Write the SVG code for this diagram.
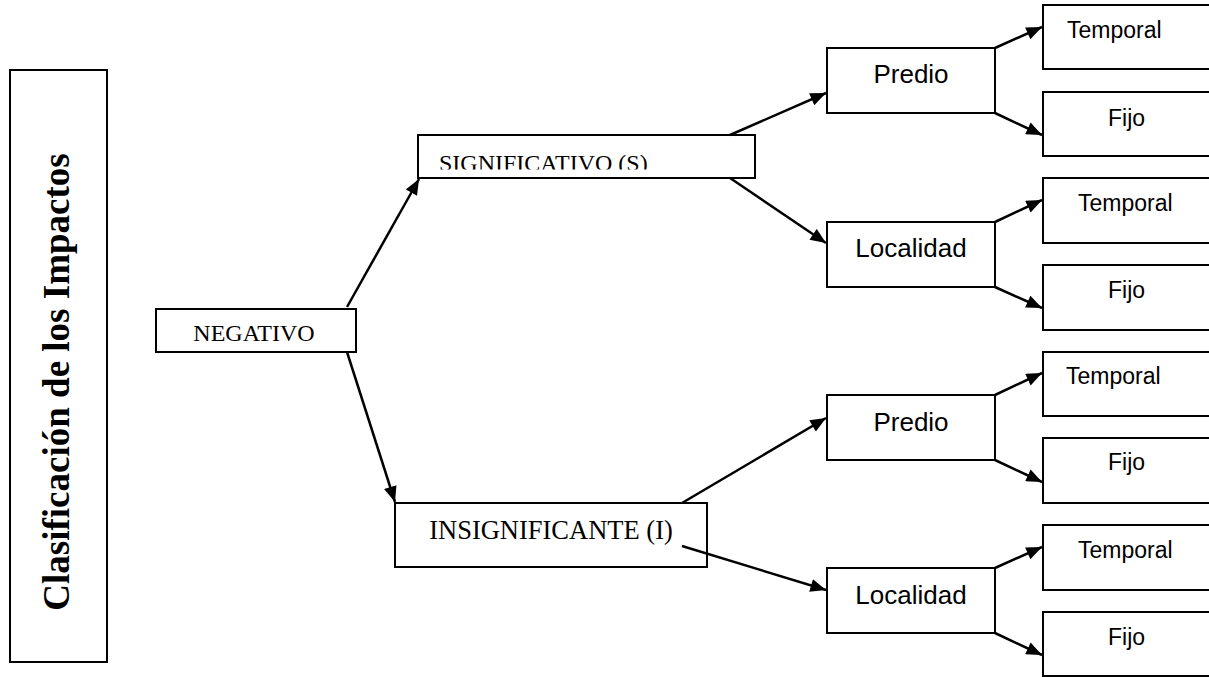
<svg xmlns="http://www.w3.org/2000/svg" width="1209" height="677" viewBox="0 0 1209 677">
<defs>
<style>
.box{fill:#fff;stroke:#000;stroke-width:2}
.serif{font-family:"Liberation Serif","Times New Roman",serif;fill:#000}
.sans{font-family:"Liberation Sans",Arial,sans-serif;fill:#000}
.con{stroke:#000;stroke-width:2.5;fill:none;marker-end:url(#ah)}
</style>
<marker id="ah" viewBox="0 0 12 10" refX="12" refY="5" markerWidth="6.4" markerHeight="5.2" markerUnits="strokeWidth" orient="auto">
<path d="M0,0 L12,5 L0,10 z" fill="#000"/>
</marker>
<clipPath id="clipS"><rect x="418" y="135" width="337" height="34.5"/></clipPath>
</defs>
<rect width="1209" height="677" fill="#fff"/>
<g id="title">
<rect class="box" x="10" y="70" width="97" height="592"/>
<text class="serif" transform="translate(69,382) rotate(-90)" text-anchor="middle" font-size="37" font-weight="bold">Clasificación de los Impactos</text>
</g>
<g id="negativo">
<rect class="box" x="156" y="309" width="200" height="43"/>
<text class="serif" x="254" y="341" text-anchor="middle" font-size="24">NEGATIVO</text>
</g>
<g id="significativo">
<rect class="box" x="418" y="135" width="337" height="43"/>
<text class="serif" x="439" y="170.5" font-size="24" clip-path="url(#clipS)">SIGNIFICATIVO (S)</text>
</g>
<g id="insignificante">
<rect class="box" x="395" y="503" width="312" height="64"/>
<text class="serif" x="551" y="539" text-anchor="middle" font-size="26.5">INSIGNIFICANTE (I)</text>
</g>
<g id="predio1">
<rect class="box" x="827" y="48" width="168" height="65"/>
<text class="sans" x="911" y="83" text-anchor="middle" font-size="26">Predio</text>
</g>
<g id="localidad1">
<rect class="box" x="827" y="222" width="168" height="65"/>
<text class="sans" x="911" y="257" text-anchor="middle" font-size="26">Localidad</text>
</g>
<g id="predio2">
<rect class="box" x="827" y="395" width="168" height="65"/>
<text class="sans" x="911" y="431" text-anchor="middle" font-size="26">Predio</text>
</g>
<g id="localidad2">
<rect class="box" x="827" y="568" width="168" height="65"/>
<text class="sans" x="911" y="604" text-anchor="middle" font-size="26">Localidad</text>
</g>
<g id="temporal1">
<rect class="box" x="1043" y="5" width="180" height="64"/>
<text class="sans" x="1067" y="38" font-size="23">Temporal</text>
</g>
<g id="fijo1">
<rect class="box" x="1043" y="92" width="180" height="64"/>
<text class="sans" x="1108" y="126" font-size="23">Fijo</text>
</g>
<g id="temporal2">
<rect class="box" x="1043" y="178" width="180" height="65"/>
<text class="sans" x="1078" y="211" font-size="23">Temporal</text>
</g>
<g id="fijo2">
<rect class="box" x="1043" y="265" width="180" height="65"/>
<text class="sans" x="1108" y="298" font-size="23">Fijo</text>
</g>
<g id="temporal3">
<rect class="box" x="1043" y="352" width="180" height="64"/>
<text class="sans" x="1066" y="384" font-size="23">Temporal</text>
</g>
<g id="fijo3">
<rect class="box" x="1043" y="438" width="180" height="65"/>
<text class="sans" x="1108" y="470" font-size="23">Fijo</text>
</g>
<g id="temporal4">
<rect class="box" x="1043" y="525" width="180" height="65"/>
<text class="sans" x="1078" y="558" font-size="23">Temporal</text>
</g>
<g id="fijo4">
<rect class="box" x="1043" y="612" width="180" height="64"/>
<text class="sans" x="1108" y="645" font-size="23">Fijo</text>
</g>
<g id="connectors">
<line class="con" x1="347" y1="307" x2="419" y2="179"/>
<line class="con" x1="347" y1="352" x2="395" y2="502"/>
<line class="con" x1="730" y1="135" x2="826" y2="93"/>
<line class="con" x1="730" y1="178" x2="826" y2="243"/>
<line class="con" x1="682" y1="503" x2="826" y2="418"/>
<line class="con" x1="682" y1="546" x2="826" y2="590"/>
<line class="con" x1="995" y1="48" x2="1042" y2="27"/>
<line class="con" x1="995" y1="113" x2="1042" y2="135"/>
<line class="con" x1="995" y1="222" x2="1042" y2="200"/>
<line class="con" x1="995" y1="287" x2="1042" y2="308"/>
<line class="con" x1="995" y1="395" x2="1042" y2="373"/>
<line class="con" x1="995" y1="460" x2="1042" y2="482"/>
<line class="con" x1="995" y1="568" x2="1042" y2="547"/>
<line class="con" x1="995" y1="633" x2="1042" y2="655"/>
</g>
</svg>
